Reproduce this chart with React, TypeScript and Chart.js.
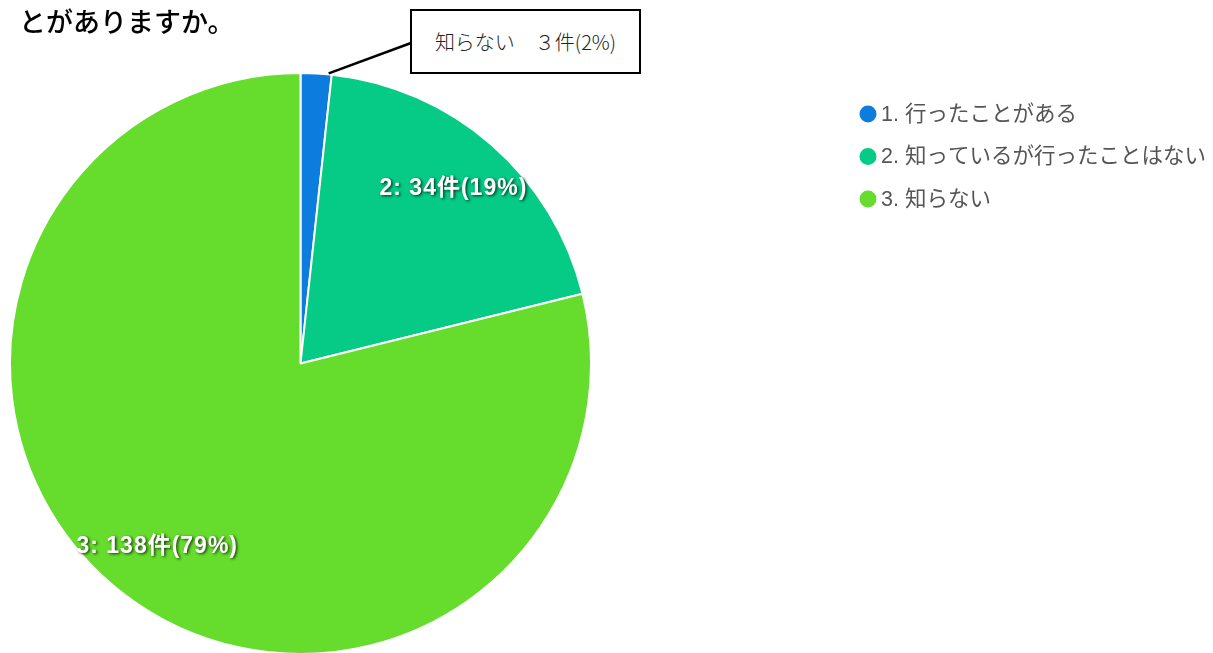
import React, { useEffect, useRef } from "react";
import { Chart, registerables } from "chart.js";

Chart.register(...registerables);

const categories = ["1. 行ったことがある", "2. 知っているが行ったことはない", "3. 知らない"];
const counts = [3, 34, 138];
const colors = ["#0c7ddf", "#05cb86", "#66dd2d"];
const titleText = "とがありますか。";
const calloutText = "知らない　３件(2%)";

const App: React.FC = () => {
  const ref = useRef<HTMLCanvasElement | null>(null);

  useEffect(() => {
    document.body.style.margin = "0";
    const canvas = ref.current;
    if (!canvas) return;
    const total = counts.reduce((a, b) => a + b, 0);

    const overlay = {
      id: "overlay",
      afterDatasetsDraw(chart: any) {
        const ctx = chart.ctx;
        const meta = chart.getDatasetMeta(0);
        // slice labels
        meta.data.forEach((arc: any, i: number) => {
          if (i === 0) return;
          const { x, y, startAngle, endAngle, outerRadius } = arc.getProps(
            ["x", "y", "startAngle", "endAngle", "outerRadius"],
            true
          );
          const mid = (startAngle + endAngle) / 2;
          const r = outerRadius * 0.8;
          const lx = x + Math.cos(mid) * r;
          const ly = y + Math.sin(mid) * r;
          const pct = Math.round((counts[i] / total) * 100);
          ctx.save();
          ctx.font = "bold 23px 'Liberation Sans', 'Noto Sans CJK JP', sans-serif";
          (ctx as any).letterSpacing = "1px";
          ctx.textAlign = "center";
          ctx.textBaseline = "middle";
          ctx.shadowColor = "rgba(0,0,0,0.75)";
          ctx.shadowBlur = 3;
          ctx.shadowOffsetX = 1.5;
          ctx.shadowOffsetY = 1.5;
          ctx.fillStyle = "#ffffff";
          ctx.fillText(`${i + 1}: ${counts[i]}件(${pct}%)`, lx, ly);
          ctx.restore();
        });
        // callout leader line
        const a0: any = meta.data[0];
        if (a0) {
          const { x, y, startAngle, endAngle, outerRadius } = a0.getProps(
            ["x", "y", "startAngle", "endAngle", "outerRadius"],
            true
          );
          const ang = startAngle + (endAngle - startAngle) * 0.9;
          const sx = x + Math.cos(ang) * (outerRadius + 1);
          const sy = y + Math.sin(ang) * (outerRadius + 1);
          ctx.save();
          ctx.strokeStyle = "#000";
          ctx.lineWidth = 2.5;
          ctx.beginPath();
          ctx.moveTo(sx, sy);
          ctx.lineTo(411, 43);
          ctx.stroke();
          ctx.restore();
        }
        // legend
        ctx.save();
        ctx.font = "21.5px 'Liberation Sans', 'Noto Sans CJK JP', sans-serif";
        ctx.textBaseline = "middle";
        categories.forEach((c, i) => {
          const cy = 114 + i * 42.5;
          ctx.fillStyle = colors[i];
          ctx.beginPath();
          ctx.arc(868, cy, 8.5, 0, Math.PI * 2);
          ctx.fill();
          ctx.fillStyle = "#555555";
          ctx.fillText(c, 881, cy + 1);
        });
        ctx.restore();
      },
    };

    const chart = new Chart(canvas, {
      type: "pie",
      data: {
        labels: categories,
        datasets: [
          {
            data: counts,
            backgroundColor: colors,
            borderColor: "#ffffff",
            borderWidth: 2,
          },
        ],
      },
      options: {
        animation: false,
        responsive: false,
        maintainAspectRatio: false,
        layout: { padding: { left: 9, right: 621, top: 72, bottom: 0 } },
        plugins: {
          legend: { display: false },
          tooltip: { enabled: false },
          title: { display: false },
        },
      },
      plugins: [overlay],
    });
    return () => chart.destroy();
  }, []);

  return (
    <div
      style={{
        position: "fixed",
        left: 0,
        top: 0,
        width: 1213,
        height: 653,
        overflow: "hidden",
        background: "#fff",
      }}
    >
      <canvas ref={ref} width={1213} height={655} style={{ position: "absolute", left: 0, top: 0 }} />
      <div
        style={{
          position: "absolute",
          left: 19,
          top: 1,
          fontSize: 27,
          fontWeight: 500,
          fontFamily: "'Noto Sans CJK JP', serif",
          color: "#000",
          whiteSpace: "nowrap",
        }}
      >
        {titleText}
      </div>
      <div
        style={{
          position: "absolute",
          left: 410,
          top: 9,
          width: 227,
          height: 61,
          border: "2px solid #000",
          background: "#fff",
          display: "flex",
          alignItems: "center",
          justifyContent: "center",
          fontSize: 20,
          fontFamily: "'Noto Sans CJK JP', 'Liberation Serif', serif",
          fontWeight: 300,
          color: "#222",
          whiteSpace: "nowrap",
        }}
      >
        {calloutText}
      </div>
    </div>
  );
};

export default App;
